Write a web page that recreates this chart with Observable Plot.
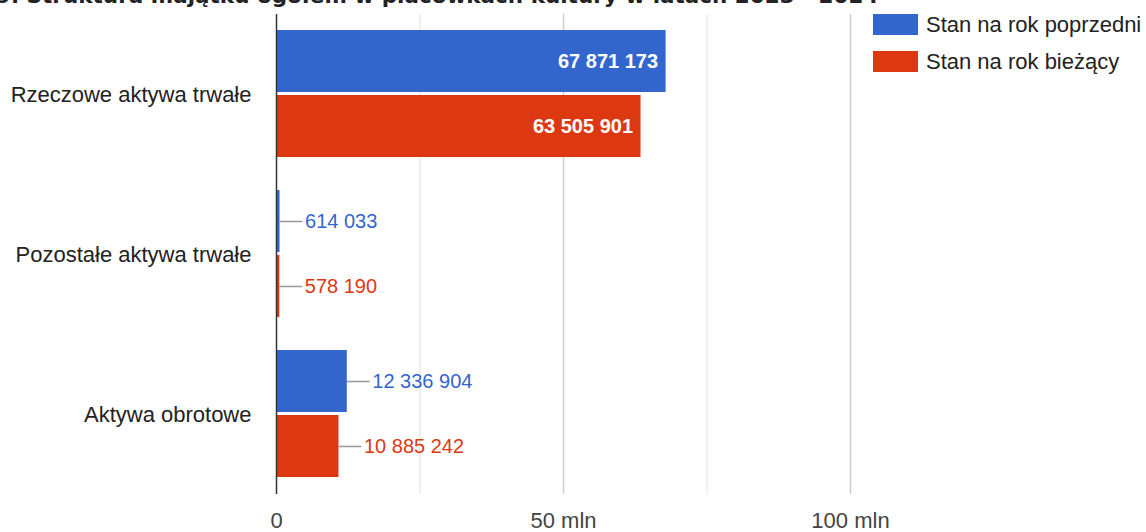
<!DOCTYPE html>
<html><head><meta charset="utf-8">
<script src="https://cdn.jsdelivr.net/npm/d3@7"></script>
<script src="https://cdn.jsdelivr.net/npm/@observablehq/plot@0.6"></script>
<style>
body{margin:0;background:#fff;overflow:hidden;width:1146px;height:532px;position:relative;}
#title{position:absolute;left:-4px;top:-14px;font:bold 21.5px "DejaVu Sans";color:#222;white-space:nowrap;line-height:20px}
#chart{position:absolute;left:0;top:0}
.leg{position:absolute;left:873px;font:22px "Liberation Sans",Arial,sans-serif;color:#222;display:flex;align-items:center;white-space:nowrap;height:21px}
.leg .sw{display:inline-block;width:45px;height:21px;margin-right:8px}
</style></head><body>
<div id="title">9. Struktura majątku ogółem w placówkach kultury w latach 2023 - 2024</div>
<div id="chart"></div>
<div id="legend"></div>
<script>
const categories = ["Rzeczowe aktywa trwałe", "Pozostałe aktywa trwałe", "Aktywa obrotowe"];
const prevValues = [67871173, 614033, 12336904];
const currValues = [63505901, 578190, 10885242];
const seriesNames = ["Stan na rok poprzedni", "Stan na rok bieżący"];
const seriesColors = ["#3366cc", "#dc3912"];
const majorTicks = [0, 50e6, 100e6];
const majorTickLabels = ["0", "50 mln", "100 mln"];
const minorTicks = [25e6, 75e6];

const data = categories.flatMap((c, i) => [
  {category: c, series: seriesNames[0], value: prevValues[i]},
  {category: c, series: seriesNames[1], value: currValues[i]}
]);
const fmt = v => String(v).replace(/\B(?=(\d{3})+(?!\d))/g, " ");
const inside = d => d.value > 20e6;
const LEADER = 4e6;

const chart = Plot.plot({
  width: 1146, height: 532,
  marginLeft: 276, marginRight: 296, marginTop: 14, marginBottom: 38,
  style: {fontFamily: '"Liberation Sans", Arial, sans-serif', fontSize: "22px", background: "transparent", color: "#222"},
  x: {domain: [0, 100e6]},
  y: {domain: seriesNames, axis: null, paddingInner: 0.046, paddingOuter: 0.244},
  fy: {domain: categories, paddingInner: 0, paddingOuter: 0},
  color: {domain: seriesNames, range: seriesColors},
  facet: {data, y: "category", label: null},
  marks: [
    Plot.ruleX(minorTicks, {stroke: "#ebebeb", strokeWidth: 1.5}),
    Plot.ruleX(majorTicks.slice(1), {stroke: "#cccccc", strokeWidth: 1.5}),
    Plot.barX(data, {x: "value", y: "series", fill: "series"}),
    Plot.ruleX([0], {stroke: "#333", strokeWidth: 1.5}),
    Plot.text(data, {filter: inside, x: "value", y: "series", text: d => fmt(d.value), textAnchor: "end", dx: -8, fill: "white", fontWeight: "bold", fontSize: 20}),
    Plot.ruleY(data, {filter: d => !inside(d), y: "series", x1: "value", x2: d => d.value + LEADER, stroke: "#999", strokeWidth: 1.5}),
    Plot.text(data, {filter: d => !inside(d), x: "value", y: "series", text: d => fmt(d.value), textAnchor: "start", dx: 25, fill: "series", fontSize: 20}),
    Plot.axisX({ticks: majorTicks, tickFormat: (d) => majorTickLabels[majorTicks.indexOf(d)], tickSize: 0, tickPadding: 18, fill: "#444", label: null}),
    Plot.axisFy({anchor: "left", tickSize: 0, tickPadding: 25, fill: "#222", label: null})
  ]
});
document.getElementById("chart").appendChild(chart);

const legend = document.getElementById("legend");
seriesNames.forEach((s, i) => {
  const row = document.createElement("div");
  row.className = "leg";
  row.style.top = (14 + i * 37) + "px";
  const sw = document.createElement("span");
  sw.className = "sw";
  sw.style.background = seriesColors[i];
  row.appendChild(sw);
  row.appendChild(document.createTextNode(s));
  legend.appendChild(row);
});
</script>
</body></html>
